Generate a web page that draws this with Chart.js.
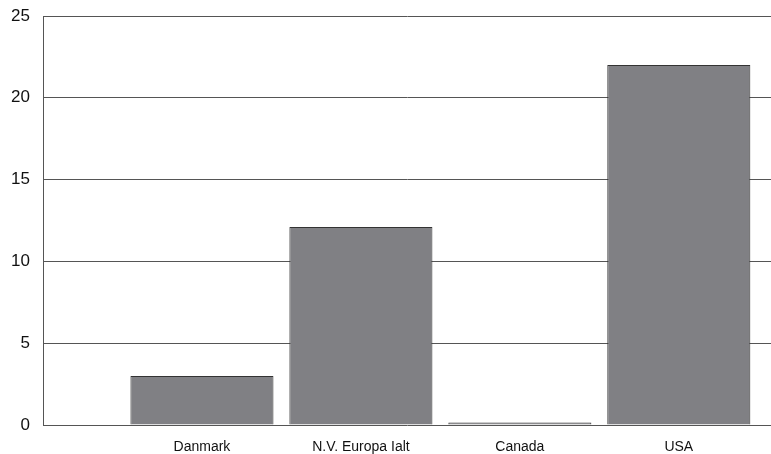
<!DOCTYPE html>
<html>
<head>
<meta charset="utf-8">
<script src="https://cdn.jsdelivr.net/npm/chart.js@4/dist/chart.umd.min.js"></script>
<style>
html,body{margin:0;padding:0;background:#fff;}
#c{display:block;}
</style>
</head>
<body>
<canvas id="c" width="771" height="454"></canvas>
<script>
const categories = ['Danmark', 'N.V. Europa Ialt', 'Canada', 'USA'];
const values = [3, 12.1, 0.15, 22];
const yTicks = [0, 5, 10, 15, 20, 25];

const positions = categories.map((c, i) => i + 1);
const FONT = '"Liberation Sans Narrow", "Liberation Sans", Arial, sans-serif';

new Chart(document.getElementById('c'), {
  type: 'bar',
  data: {
    datasets: [{
      data: positions.map((p, i) => ({ x: p, y: values[i] })),
      backgroundColor: '#808084',
      borderColor: '#333333',
      borderWidth: 1,
      categoryPercentage: 1,
      barPercentage: 0.9
    }]
  },
  options: {
    responsive: false,
    animation: false,
    layout: { padding: { top: 16, right: 0, left: 0, bottom: 0 } },
    plugins: { legend: { display: false }, tooltip: { enabled: false } },
    scales: {
      x: {
        type: 'linear',
        offset: false,
        min: 0,
        max: 4.58,
        grid: { display: false },
        border: { display: false },
        afterBuildTicks: s => { s.ticks = positions.map(v => ({ value: v })); },
        afterFit: s => { s.height = 29; },
        ticks: {
          autoSkip: false,
          maxRotation: 0,
          padding: 6,
          color: '#111',
          font: { family: FONT, size: 14, style: 'condensed' },
          callback: v => categories[v - 1] ?? ''
        }
      },
      y: {
        min: 0,
        max: 25,
        afterBuildTicks: s => { s.ticks = yTicks.map(v => ({ value: v })); },
        afterFit: s => { s.width = 43; s.paddingTop = 0; s.paddingBottom = 0; },
        grid: { color: '#555', lineWidth: 1, drawTicks: false },
        border: { display: true, color: '#555', width: 1 },
        ticks: {
          padding: 13,
          color: '#111',
          font: { family: FONT, size: 17, style: 'condensed' }
        }
      }
    }
  }
});
</script>
</body>
</html>
